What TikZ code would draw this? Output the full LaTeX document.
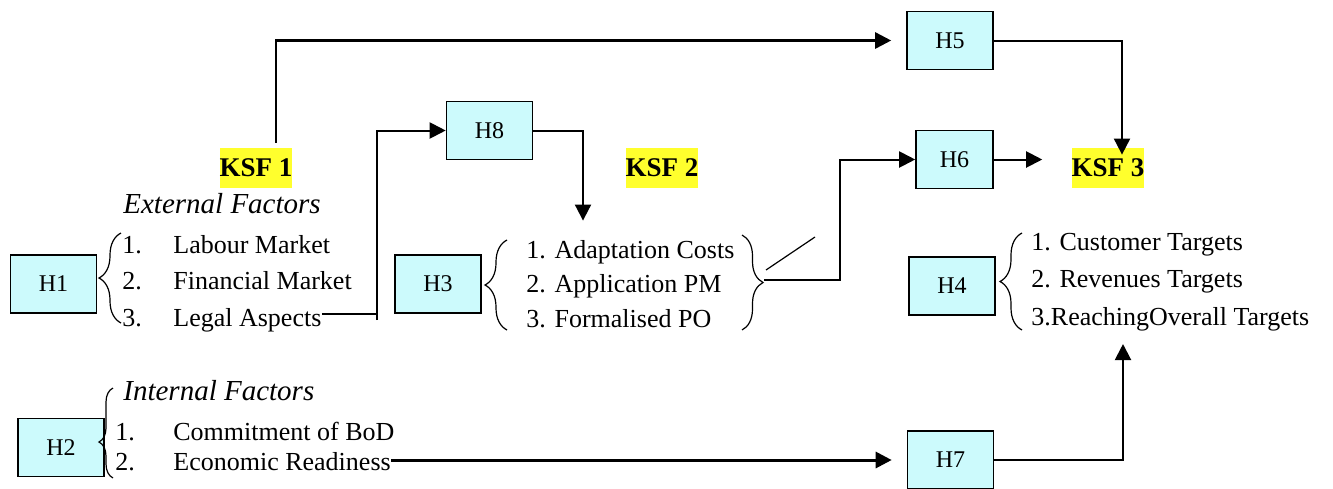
\documentclass[tikz,border=0pt]{standalone}
\usepackage{fontspec}
\setmainfont{Liberation Serif}
\usetikzlibrary{arrows.meta,decorations.pathreplacing}

\definecolor{hcyan}{RGB}{204,250,252}
\definecolor{ksfyellow}{RGB}{255,255,45}

\tikzset{
  hbox/.style={draw, line width=0.8pt, fill=hcyan, minimum width=43pt,
    minimum height=29pt, inner sep=0pt, font=\rmfamily\fontsize{12}{14}\selectfont},
  ksf/.style={fill=ksfyellow, inner sep=0pt, minimum width=35.5pt,
    minimum height=20pt, font=\rmfamily\bfseries\fontsize{13.5}{16}\selectfont},
  item/.style={anchor=base west, inner sep=0pt, font=\rmfamily\fontsize{13}{15}\selectfont},
  head/.style={anchor=base west, inner sep=0pt, font=\rmfamily\itshape\fontsize{14.5}{17}\selectfont},
  brc/.style={decorate, decoration={brace, amplitude=11pt}, line width=0.6pt},
  link/.style={line width=1pt, -{Triangle[length=8pt,width=8pt]}},
}

\begin{document}
\begin{tikzpicture}[x=0.5pt, y=-0.5pt]
      \useasboundingbox (0,0) rectangle (1333,488);

      %% hypothesis boxes
      \node[hbox] (h1) at (53.5,284) {H1};
      \node[hbox] (h2) at (61,447.5) {H2};
      \node[hbox] (h3) at (438,284) {H3};
      \node[hbox] (h4) at (952,286) {H4};
      \node[hbox] (h5) at (950,40.5) {H5};
      \node[hbox, minimum width=38.5pt] (h6) at (954.5,159.5) {H6};
      \node[hbox] (h7) at (950.5,460) {H7};
      \node[hbox] (h8) at (489.5,130.5) {H8};

      %% key success factors
      \node[ksf] (ksf1) at (256,168) {KSF 1};
      \node[ksf] (ksf2) at (662,168) {KSF 2};
      \node[ksf] (ksf3) at (1108,168) {KSF 3};

      %% external factors
      \node[head] (exthead) at (123,213) {External Factors};
      \foreach \t [count=\i] in {Labour Market,Financial Market,Legal Aspects} {
        \node[item] (ext\i) at (122,{216.5+36.5*\i}) {\makebox[25.5pt][l]{\i.}\t}; }
      \draw[brc] (121,323) -- (121,233);

      %% internal factors
      \node[head] (inthead) at (123,400) {Internal Factors};
      \foreach \t [count=\i] in {Commitment of BoD,Economic Readiness} {
        \node[item] (int\i) at (115,{410+30*\i}) {\makebox[29pt][l]{\i.}\t}; }
      \draw[brc, decoration={amplitude=7pt, aspect=0.4}] (113,478) -- (113,388);

      %% KSF 2 list
      \foreach \t [count=\i] in {Adaptation Costs,Application PM,Formalised PO} {
        \node[item] (ad\i) at (526,{223.5+34.5*\i}) {\i. \t}; }
      \draw[brc] (507,330) -- (507,240);
      \draw[brc, decoration={amplitude=10.5pt}] (742,235) -- (742,330);
      \coordinate (rtip) at (764,280);

      %% KSF 3 list
      \foreach \t [count=\i] in {1. Customer Targets,2. Revenues Targets,3.ReachingOverall Targets} {
        \node[item] (tg\i) at (1031,{212.5+37.5*\i}) {\t}; }
      \draw[brc] (1022,330) -- (1022,233);

      %% connectors
      \draw[link, line width=1.3pt, shorten >=7.5pt]
        ([xshift=10pt,yshift=2.5pt]ksf1.north) |- (h5.west);

      \coordinate (bar) at (377,320);
      \draw[line width=0.8pt] ([yshift=3pt]ext3.east) -- ([yshift=3pt]ext3.east -| bar);
      \draw[link] (bar) |- (h8.west);

      \draw[link] (h8.east) -| ([xshift=28.5pt,yshift=9.5pt]ad1.north west);

      \draw[link] (rtip) -- ++(76,0) |- (h6.west);
      \draw[line width=0.6pt] (766,270) -- (815,237);

      \coordinate (k3) at ([xshift=-14.5pt]ksf3.west);
      \draw[link] (h6.east) -- (h6.east -| k3);
      \draw[link] (h5.east) -| ([xshift=7pt,yshift=-3.5pt]ksf3.north);

      \draw[link, line width=1.5pt, shorten >=7.5pt] (int2.east |- h7.west) -- (h7.west);
      \draw[link] (h7.east) -| ([xshift=46pt,yshift=-6.5pt]tg3.south west);

\end{tikzpicture}
\end{document}
